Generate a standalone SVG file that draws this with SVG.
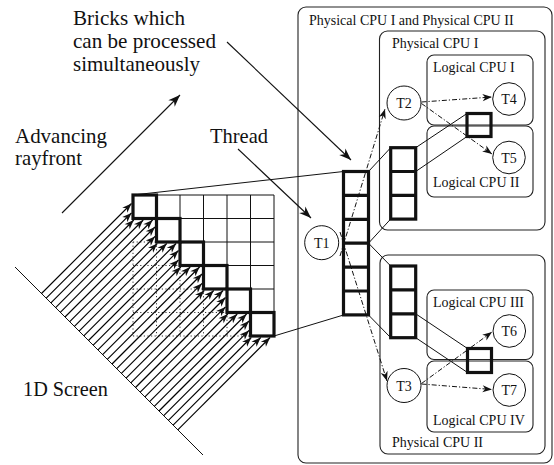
<svg xmlns="http://www.w3.org/2000/svg" xmlns:xlink="http://www.w3.org/1999/xlink" width="554" height="465" viewBox="0 0 554 465">
<style>
.big{font-family:"Liberation Serif","Times New Roman",serif;font-size:21px;fill:#111}
.lbl{font-family:"Liberation Serif","Times New Roman",serif;font-size:14px;fill:#111}
.tl{font-family:"Liberation Serif","Times New Roman",serif;font-size:14px;fill:#111;text-anchor:middle}
.box{fill:none;stroke:#222;stroke-width:1.1}
.thin{stroke:#111;stroke-width:1;fill:none}
.dot{stroke:#333;stroke-width:1;stroke-dasharray:1.2 2.4;fill:none}
.bold{stroke:#111;stroke-width:3.2;fill:none}
.ray{stroke:#000;stroke-width:1.15;fill:none;marker-end:url(#ah)}
.dd{stroke:#111;stroke-width:1;stroke-dasharray:5 2 1.2 2;fill:none;marker-end:url(#ah)}
.ptr{stroke:#111;stroke-width:1.1;fill:none;marker-end:url(#ahL)}
.circ{fill:#fff;stroke:#111;stroke-width:1}
</style>
<defs>
<marker id="ah" viewBox="-10 -5 11 10" refX="0" refY="0" markerWidth="11" markerHeight="10" markerUnits="userSpaceOnUse" orient="auto"><path d="M0,0 L-9.5,-3.6 L-6.8,0 L-9.5,3.6 Z" fill="#111"/></marker>
<marker id="ahL" viewBox="-14 -6 15 12" refX="0" refY="0" markerWidth="15" markerHeight="12" markerUnits="userSpaceOnUse" orient="auto"><path d="M0,0 L-12,-4.5 L-8.5,0 L-12,4.5 Z" fill="#111"/></marker>
<g id="rayset">
<line class="ray" x1="41.5" y1="293.5" x2="131.5" y2="203.5"/>
<line class="ray" x1="46.2" y1="298.2" x2="131.5" y2="212.9"/>
<line class="ray" x1="50.9" y1="302.9" x2="133.8" y2="220"/>
<line class="ray" x1="55.6" y1="307.6" x2="143.2" y2="220"/>
<line class="ray" x1="60.3" y1="312.3" x2="152.6" y2="220"/>
</g>
</defs>

<g id="labels">
<text class="big" x="73" y="25" textLength="112" lengthAdjust="spacingAndGlyphs">Bricks which</text>
<text class="big" x="73" y="48" textLength="143" lengthAdjust="spacingAndGlyphs">can be processed</text>
<text class="big" x="73" y="71" textLength="127" lengthAdjust="spacingAndGlyphs">simultaneously</text>
<text class="big" x="15" y="143" textLength="92" lengthAdjust="spacingAndGlyphs">Advancing</text>
<text class="big" x="15" y="165" textLength="67" lengthAdjust="spacingAndGlyphs">rayfront</text>
<text class="big" x="210" y="143" textLength="58" lengthAdjust="spacingAndGlyphs">Thread</text>
<text class="big" x="23" y="396" textLength="85" lengthAdjust="spacingAndGlyphs">1D Screen</text>
</g>

<g id="cpu-all"><rect class="box" x="298" y="7" width="254" height="456" rx="8"/><text class="lbl" x="309" y="25">Physical CPU I and Physical CPU II</text></g>
<g id="cpu1"><rect class="box" x="379.5" y="31" width="165.5" height="199" rx="8"/><text class="lbl" x="392" y="48">Physical CPU I</text></g>
<g id="cpu2"><rect class="box" x="380" y="255" width="165" height="199" rx="8"/><text class="lbl" x="392" y="447">Physical CPU II</text></g>
<g id="lcpu1"><rect class="box" x="427" y="55" width="106" height="70" rx="7"/><text class="lbl" x="433" y="72">Logical CPU I</text></g>
<g id="lcpu2"><rect class="box" x="427" y="126" width="106" height="71" rx="7"/><text class="lbl" x="433" y="187">Logical CPU II</text></g>
<g id="lcpu3"><rect class="box" x="427" y="290" width="106" height="69.5" rx="7"/><text class="lbl" x="433" y="307">Logical CPU III</text></g>
<g id="lcpu4"><rect class="box" x="427" y="361" width="106" height="71" rx="7"/><text class="lbl" x="433" y="425">Logical CPU IV</text></g>

<g id="grid">
<path class="dot" d="M133,242H156.5M133,265.5H180M133,289H203.5M133,312.5H227M133,336H250.5M133,242V336M156.5,242V336M180,265.5V336M203.5,289V336M227,312.5V336"/>
<path class="thin" d="M133,195H274M156.5,218.5H274M180,242H274M203.5,265.5H274M227,289H274M250.5,312.5H274M156.5,195V218.5M180,195V242M203.5,195V265.5M227,195V289M250.5,195V312.5M274,195V336"/>
</g>

<g id="screen">
<line class="thin" x1="15" y1="267" x2="203" y2="455"/>
<use xlink:href="#rayset"/>
<use xlink:href="#rayset" transform="translate(23.5,23.5)"/>
<use xlink:href="#rayset" transform="translate(47,47)"/>
<use xlink:href="#rayset" transform="translate(70.5,70.5)"/>
<use xlink:href="#rayset" transform="translate(94,94)"/>
<use xlink:href="#rayset" transform="translate(117.5,117.5)"/>
</g>

<g id="diagonal-bricks">
<rect class="bold" x="133" y="195" width="23.5" height="23.5"/>
<rect class="bold" x="156.5" y="218.5" width="23.5" height="23.5"/>
<rect class="bold" x="180" y="242" width="23.5" height="23.5"/>
<rect class="bold" x="203.5" y="265.5" width="23.5" height="23.5"/>
<rect class="bold" x="227" y="289" width="23.5" height="23.5"/>
<rect class="bold" x="250.5" y="312.5" width="23.5" height="23.5"/>
</g>

<g id="connectors">
<line class="ptr" x1="62" y1="213" x2="180" y2="95"/>
<line class="ptr" x1="227" y1="42" x2="351" y2="160"/>
<line class="ptr" x1="238" y1="149" x2="311" y2="218"/>
<line class="thin" x1="133" y1="195" x2="343.5" y2="171.5"/>
<line class="thin" x1="274" y1="336" x2="343.5" y2="315"/>
<line class="thin" x1="368.5" y1="171.5" x2="390.7" y2="147.7"/>
<line class="thin" x1="368.5" y1="243.2" x2="390.7" y2="219"/>
<line class="thin" x1="368.5" y1="243.2" x2="390.7" y2="266"/>
<line class="thin" x1="368.5" y1="315" x2="390.7" y2="337.7"/>
<line class="thin" x1="415.7" y1="147.7" x2="467" y2="113.5"/>
<line class="thin" x1="415.7" y1="171.5" x2="467" y2="136.5"/>
<line class="thin" x1="415.7" y1="313.8" x2="467.5" y2="348.5"/>
<line class="thin" x1="415.7" y1="337.7" x2="467.5" y2="372.5"/>
<line class="dd" x1="340" y1="256" x2="385" y2="109"/>
<line class="dd" x1="340" y1="232" x2="387" y2="381"/>
<line class="dd" x1="421.5" y1="102" x2="492" y2="97"/>
<line class="dd" x1="421.5" y1="103.5" x2="492" y2="154"/>
<line class="dd" x1="421.5" y1="383.5" x2="492" y2="332"/>
<line class="dd" x1="421.5" y1="384" x2="492" y2="389.5"/>
</g>

<g id="bricks-thread">
<rect class="bold" x="343.5" y="171.5" width="25" height="143.4"/>
<path class="bold" d="M343.5,195.4H368.5M343.5,219.3H368.5M343.5,243.2H368.5M343.5,267.1H368.5M343.5,291H368.5"/>
</g>
<g id="bricks-cpu1">
<rect class="bold" x="390.7" y="147.7" width="25" height="71.4"/>
<path class="bold" d="M390.7,171.5H415.7M390.7,195.3H415.7"/>
</g>
<g id="bricks-cpu2">
<rect class="bold" x="390.7" y="266" width="25" height="71.7"/>
<path class="bold" d="M390.7,289.9H415.7M390.7,313.8H415.7"/>
</g>
<g id="brick-shared1"><rect class="bold" x="467" y="113.5" width="24" height="23"/></g>
<g id="brick-shared2"><rect class="bold" x="467.5" y="348.5" width="24" height="24"/></g>

<g id="T1"><circle class="circ" cx="321.7" cy="242.7" r="17"/><text class="tl" x="321.7" y="247.5">T1</text></g>
<g id="T2"><circle class="circ" cx="404" cy="103" r="17"/><text class="tl" x="404" y="108">T2</text></g>
<g id="T3"><circle class="circ" cx="404" cy="385.5" r="17"/><text class="tl" x="404" y="390.5">T3</text></g>
<g id="T4"><circle class="circ" cx="509" cy="99" r="16.3"/><text class="tl" x="509" y="104">T4</text></g>
<g id="T5"><circle class="circ" cx="509" cy="157.5" r="16.3"/><text class="tl" x="509" y="162.5">T5</text></g>
<g id="T6"><circle class="circ" cx="509.3" cy="331" r="16.3"/><text class="tl" x="509.3" y="336">T6</text></g>
<g id="T7"><circle class="circ" cx="509.3" cy="390" r="16.3"/><text class="tl" x="509.3" y="395">T7</text></g>
</svg>
